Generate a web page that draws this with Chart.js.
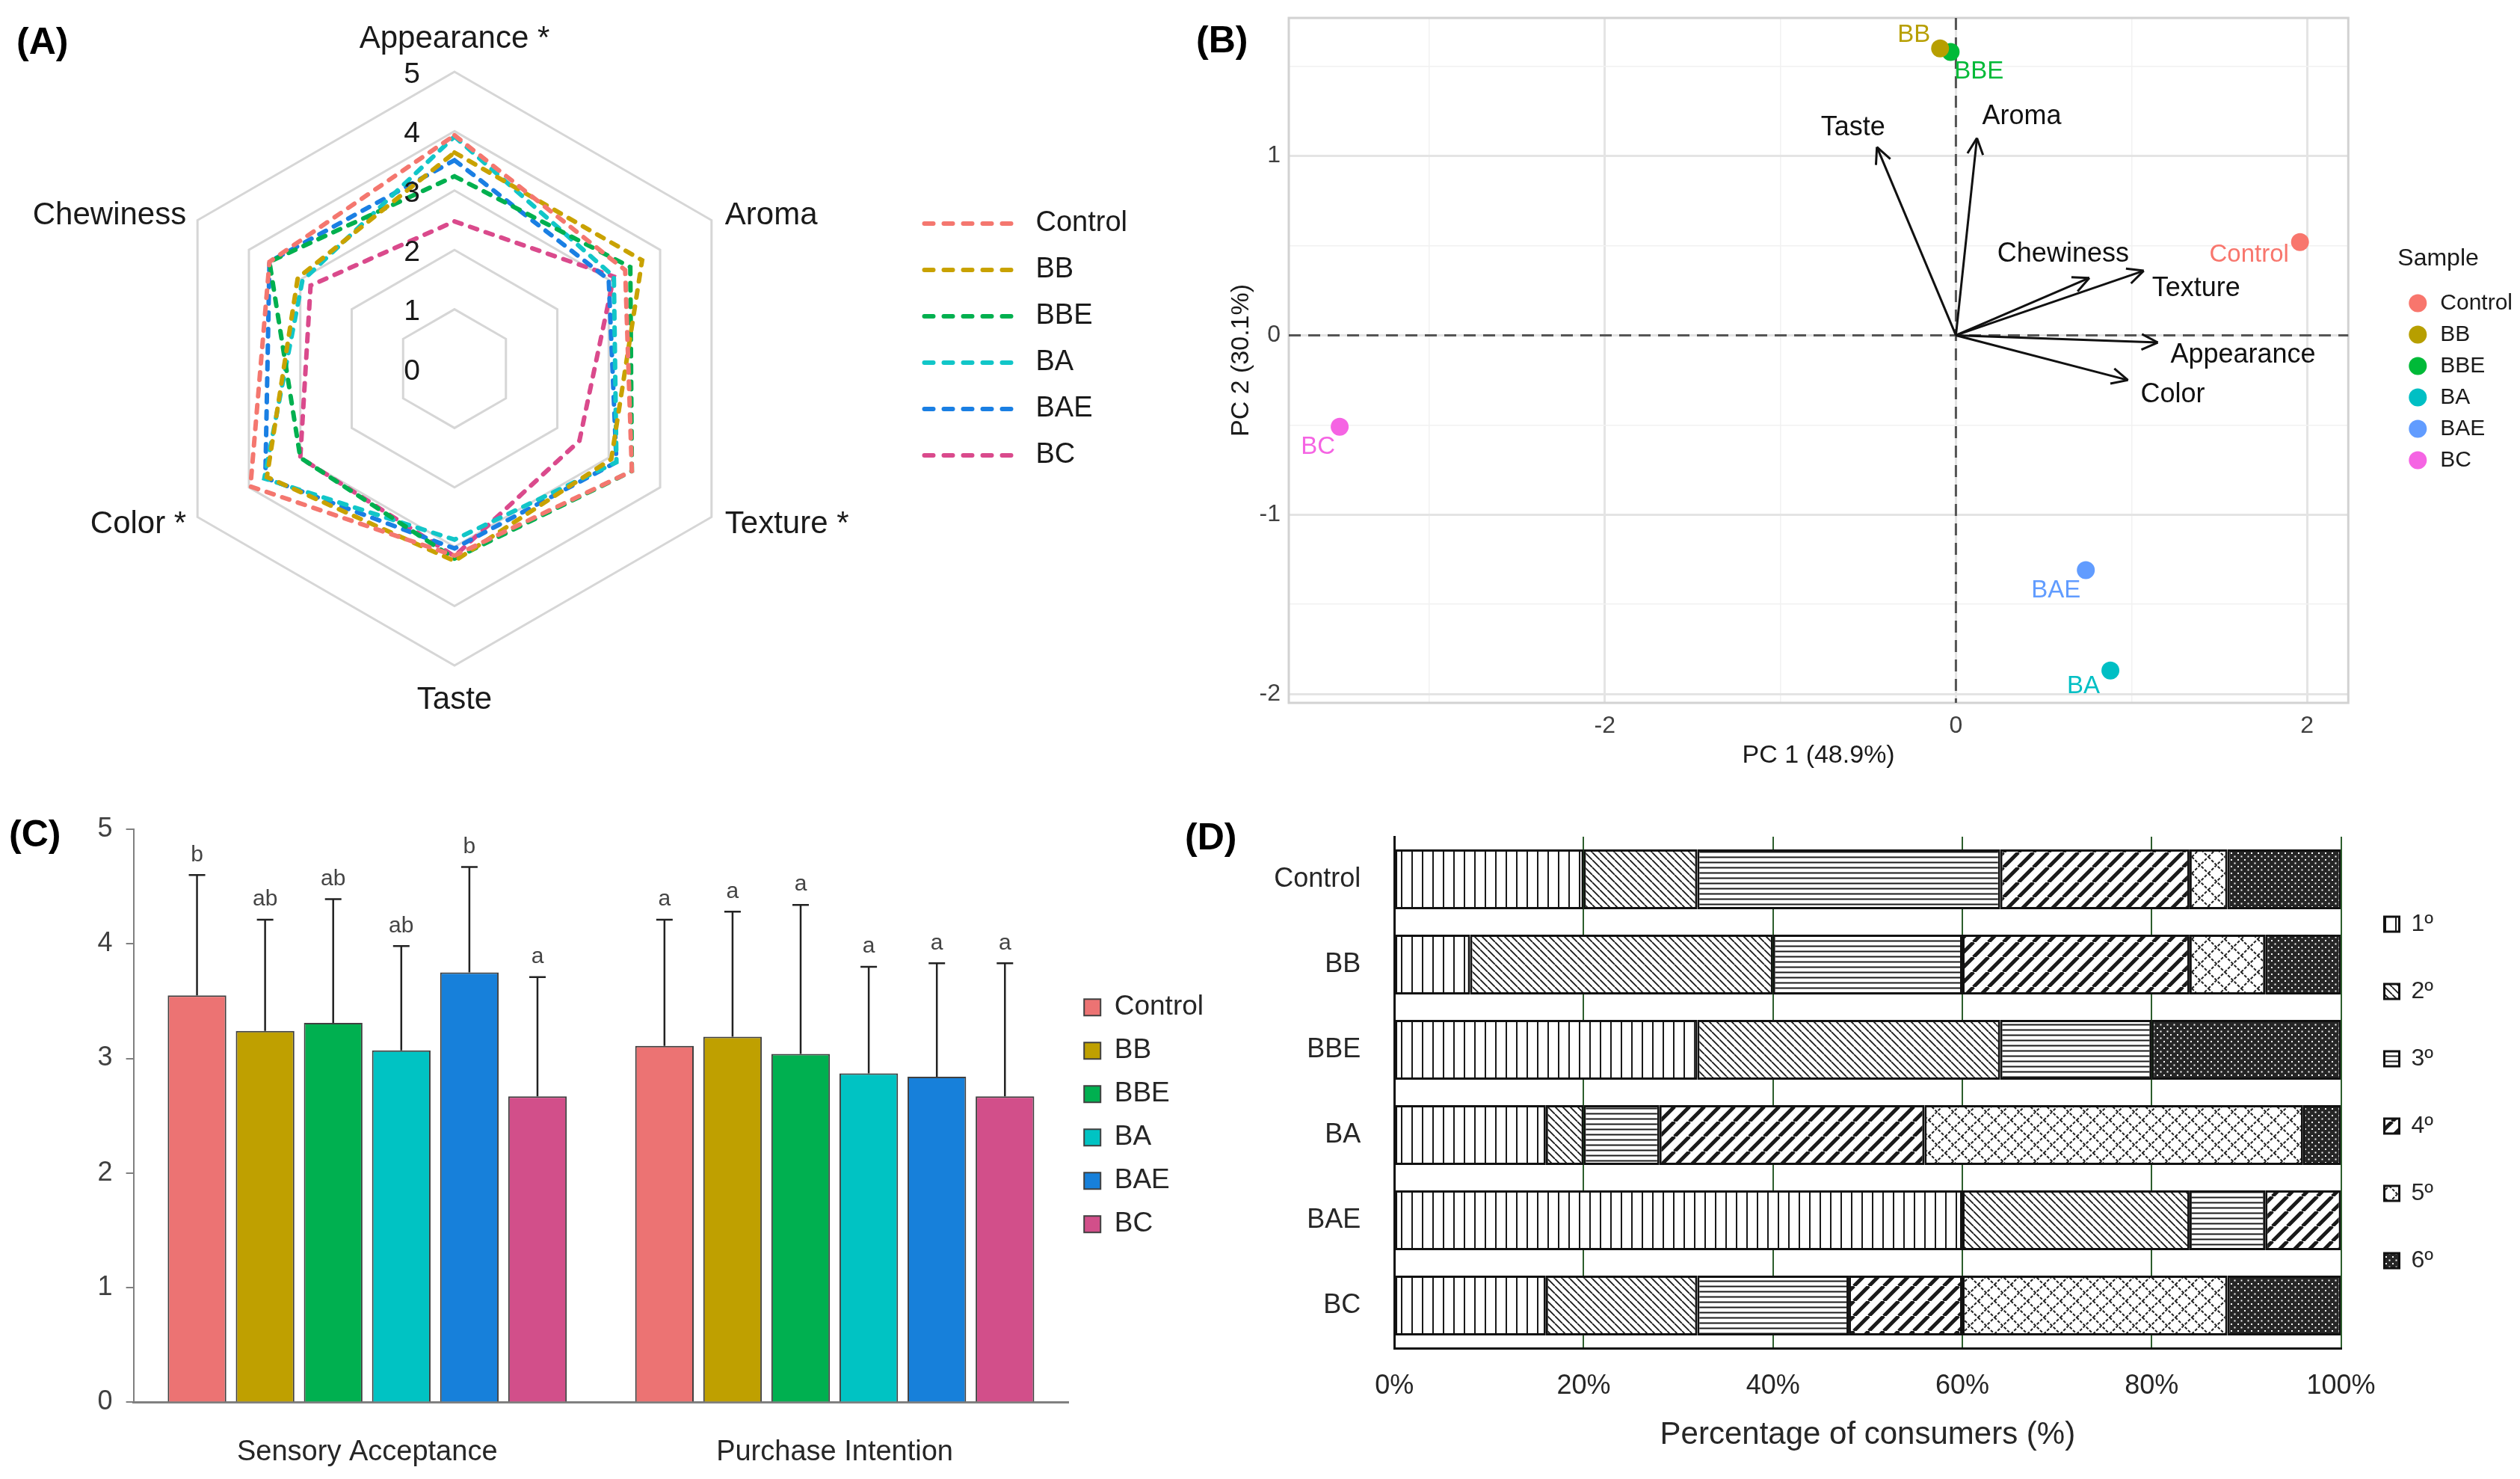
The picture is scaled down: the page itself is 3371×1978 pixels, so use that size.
<!DOCTYPE html>
<html>
<head>
<meta charset="utf-8">
<script src="https://cdn.jsdelivr.net/npm/chart.js@4.4.1/dist/chart.umd.min.js"></script>
<style>
  body { margin: 0; background: #fff; }
  #fig { position: relative; width: 3371px; height: 1978px; overflow: hidden; background: #fff;
         font-family: "Liberation Sans", Arial, sans-serif; }
  .panel { position: absolute; }
  .tag { position: absolute; font-weight: bold; font-size: 50px; line-height: 1; color: #000; }
</style>
</head>
<body>
<div id="fig">
  <canvas class="panel" id="radar" width="1560" height="1000" style="left:0;top:0"></canvas>
  <canvas class="panel" id="pca" width="1771" height="1045" style="left:1600px;top:0"></canvas>
  <canvas class="panel" id="bars" width="1640" height="928" style="left:0;top:1050px"></canvas>
  <canvas class="panel" id="rank" width="1671" height="898" style="left:1700px;top:1080px"></canvas>
  <div class="tag" style="left:22px;top:30px">(A)</div>
  <div class="tag" style="left:1600px;top:28px">(B)</div>
  <div class="tag" style="left:12px;top:1090px">(C)</div>
  <div class="tag" style="left:1585px;top:1094px">(D)</div>
</div>
<script>
// ---- data ----
const samples = ["Control", "BB", "BBE", "BA", "BAE", "BC"];

// (A) sensory profile, clockwise from top
const attributes = ["Appearance *", "Aroma", "Texture *", "Taste", "Color *", "Chewiness"];
const radarControl = [3.93, 3.32, 3.45, 3.15, 3.97, 3.60];
const radarBB      = [3.64, 3.65, 3.05, 3.24, 3.65, 3.05];
const radarBBE     = [3.24, 3.42, 3.45, 3.20, 3.00, 3.60];
const radarBA      = [3.91, 3.10, 3.15, 2.88, 3.70, 2.96];
const radarBAE     = [3.51, 3.00, 3.15, 3.03, 3.68, 3.60];
const radarBC      = [2.48, 3.10, 2.43, 3.16, 3.00, 2.80];
const radarTicks = [0, 1, 2, 3, 4, 5];

// (B) PCA scores and loadings
const pcaX = [1.96, -0.09, -0.03, 0.88, 0.74, -3.51];
const pcaY = [0.52, 1.60, 1.58, -1.87, -1.31, -0.51];
const loadingNames = ["Taste", "Aroma", "Chewiness", "Texture", "Appearance", "Color"];
const loadingX = [-0.45, 0.12, 0.76, 1.07, 1.15, 0.98];
const loadingY = [1.05, 1.10, 0.32, 0.36, -0.04, -0.25];

// (C) acceptance and purchase intention
const groups = ["Sensory Acceptance", "Purchase Intention"];
const accMean = [3.55, 3.24, 3.31, 3.07, 3.75, 2.67];
const accSd   = [1.05, 0.97, 1.08, 0.91, 0.92, 1.04];
const accLetters = ["b", "ab", "ab", "ab", "b", "a"];
const purMean = [3.11, 3.19, 3.04, 2.87, 2.84, 2.67];
const purSd   = [1.10, 1.09, 1.30, 0.93, 0.99, 1.16];
const purLetters = ["a", "a", "a", "a", "a", "a"];

// (D) preference ranking, % of consumers per sample
const ranks = ["1º", "2º", "3º", "4º", "5º", "6º"];
const rank1 = [20, 8, 32, 16, 60, 16];
const rank2 = [12, 32, 32, 4, 24, 16];
const rank3 = [32, 20, 16, 8, 8, 16];
const rank4 = [20, 24, 0, 28, 8, 12];
const rank5 = [4, 8, 0, 40, 0, 28];
const rank6 = [12, 8, 20, 4, 0, 12];

// ---- styles ----
const FONT = "'Liberation Sans', Arial, sans-serif";
Chart.defaults.font.family = FONT;
Chart.defaults.color = "#000";
Chart.defaults.animation = false;
Chart.defaults.plugins.tooltip.enabled = false;

const radarColors = ["#F4776F", "#C9A200", "#00B04F", "#12C6C8", "#1A7FE3", "#DA4A8C"];
const pcaColors = ["#F8766D", "#B79F00", "#00BA38", "#00BFC4", "#619CFF", "#F564E3"];
const barColors = ["#EC7373", "#BFA000", "#00B050", "#00C3C3", "#1780DA", "#D24F8A"];

// tick labels should not push the plot area around
const noEdgePad = s => { s.paddingTop = 0; s.paddingBottom = 0; s.paddingLeft = 0; s.paddingRight = 0; };

// ---------- (A) radar ----------
const radarText = {
  id: "radarText",
  afterDatasetsDraw(chart) {
    const r = chart.scales.r, ctx = chart.ctx;
    ctx.save();
    ctx.fillStyle = "#1a1a1a";
    ctx.textBaseline = "middle";
    ctx.textAlign = "center";
    ctx.font = "39px " + FONT;
    radarTicks.forEach(v => {
      const y = r.yCenter - r.getDistanceFromCenterForValue(v);
      ctx.fillText(String(v), r.xCenter - 57, y + 4);
    });
    ctx.font = "42px " + FONT;
    attributes.forEach((name, i) => {
      const p = r.getPointPosition(i, r.drawingArea);
      const dx = p.x - r.xCenter, dy = p.y - r.yCenter;
      if (Math.abs(dx) < 1) {
        ctx.textAlign = "center";
        ctx.fillText(name, p.x, p.y + (dy < 0 ? -44 : 46));
      } else {
        ctx.textAlign = dx > 0 ? "left" : "right";
        ctx.fillText(name, p.x + (dx > 0 ? 18 : -15), p.y + (dy < 0 ? -6 : 10));
      }
    });
    ctx.restore();
  }
};

const radarSeries = [radarControl, radarBB, radarBBE, radarBA, radarBAE, radarBC];
const rad = new Chart(document.getElementById("radar"), {
  type: "radar",
  data: {
    labels: attributes,
    datasets: samples.map((s, i) => ({
      label: s,
      data: radarSeries[i],
      borderColor: radarColors[i],
      borderWidth: 6,
      borderDash: [10, 12],
      borderCapStyle: "round",
      fill: false,
      pointRadius: 0
    }))
  },
  options: {
    responsive: false,
    devicePixelRatio: 1,
    layout: { autoPadding: false, padding: { left: 5, top: 96, bottom: 109, right: 42 } },
    scales: {
      r: {
        min: 0, max: 5,
        ticks: { stepSize: 1, display: false },
        grid: { color: "#d6d6d6", lineWidth: 3 },
        angleLines: { display: false },
        pointLabels: { display: false }
      }
    },
    plugins: {
      legend: {
        position: "right",
        align: "start",
        fullSize: false,
        maxWidth: 320,
        title: { display: true, text: " ", font: { size: 10 }, padding: { top: 148, bottom: 0 } },
        labels: {
          usePointStyle: true,
          pointStyleWidth: 130,
          boxWidth: 130,
          padding: 24,
          color: "#1a1a1a",
          font: { size: 38 },
          generateLabels: chart => chart.data.datasets.map((d, i) => ({
            text: d.label,
            datasetIndex: i,
            pointStyle: "line",
            strokeStyle: d.borderColor,
            fillStyle: d.borderColor,
            lineWidth: 6,
            lineDash: [12, 14],
            lineCap: "round",
            fontColor: "#1a1a1a",
            hidden: false
          }))
        }
      }
    }
  },
  plugins: [radarText]
});

// ---------- (B) PCA biplot ----------
const pcaLabelShift = {
  Control: [-68, 17], BB: [-35, -18], BBE: [38, 26], BA: [-36, 21], BAE: [-40, 27], BC: [-29, 27],
  Taste: [-32, -26], Aroma: [60, -29], Chewiness: [-35, -32], Texture: [70, 24], Appearance: [114, 17], Color: [60, 20]
};

const pcaDecor = {
  id: "pcaDecor",
  beforeDatasetsDraw(chart) {
    const { ctx, chartArea: a, scales: { x, y } } = chart;
    const x0 = x.getPixelForValue(0), y0 = y.getPixelForValue(0);
    ctx.save();
    ctx.strokeStyle = "#d2d2d2";
    ctx.lineWidth = 3;
    ctx.strokeRect(a.left, a.top, a.width, a.height);
    ctx.strokeStyle = "#555";
    ctx.setLineDash([16, 10]);
    ctx.beginPath();
    ctx.moveTo(x0, a.top); ctx.lineTo(x0, a.bottom);
    ctx.moveTo(a.left, y0); ctx.lineTo(a.right, y0);
    ctx.stroke();
    ctx.restore();
  },
  afterDatasetsDraw(chart) {
    const { ctx, scales: { x, y } } = chart;
    const x0 = x.getPixelForValue(0), y0 = y.getPixelForValue(0);
    ctx.save();
    ctx.strokeStyle = "#111";
    ctx.lineWidth = 3;
    ctx.textAlign = "center";
    ctx.textBaseline = "middle";
    loadingNames.forEach((n, i) => {
      const tx = x.getPixelForValue(loadingX[i]), ty = y.getPixelForValue(loadingY[i]);
      const ang = Math.atan2(ty - y0, tx - x0);
      ctx.beginPath();
      [-0.45, 0.45].forEach(d => {
        ctx.moveTo(tx, ty);
        ctx.lineTo(tx - 24 * Math.cos(ang + d), ty - 24 * Math.sin(ang + d));
      });
      ctx.stroke();
      const s = pcaLabelShift[n];
      ctx.fillStyle = "#111";
      ctx.font = "36px " + FONT;
      ctx.fillText(n, tx + s[0], ty + s[1]);
    });
    samples.forEach((n, i) => {
      const px = x.getPixelForValue(pcaX[i]), py = y.getPixelForValue(pcaY[i]);
      const s = pcaLabelShift[n];
      ctx.fillStyle = pcaColors[i];
      ctx.font = "33px " + FONT;
      ctx.fillText(n, px + s[0], py + s[1]);
    });
    ctx.restore();
  }
};

const onStep = (v, step) => Math.abs(v / step - Math.round(v / step)) < 1e-6;
const gridColor = step => c => (c.tick && onStep(c.tick.value, step)) ? "#e4e4e4" : "#f1f1f1";
const gridWidth = step => c => (c.tick && onStep(c.tick.value, step)) ? 3 : 1.5;

const pca = new Chart(document.getElementById("pca"), {
  type: "scatter",
  data: {
    datasets: samples.map((s, i) => ({
      label: s,
      data: [{ x: pcaX[i], y: pcaY[i] }],
      backgroundColor: pcaColors[i],
      borderWidth: 0,
      pointRadius: 12
    })).concat(loadingNames.map((n, i) => ({
      label: n,
      data: [{ x: 0, y: 0 }, { x: loadingX[i], y: loadingY[i] }],
      showLine: true,
      borderColor: "#111",
      borderWidth: 3,
      pointRadius: 0
    })))
  },
  options: {
    responsive: false,
    devicePixelRatio: 1,
    layout: { autoPadding: false, padding: { top: 24, right: 0, bottom: 14 } },
    scales: {
      x: {
        type: "linear", min: -3.8, max: 2.235,
        ticks: { stepSize: 1, includeBounds: false, color: "#404040", font: { size: 32 }, padding: 12,
                 callback: v => (onStep(v, 2) ? String(Math.round(v)) : "") },
        grid: { color: gridColor(2), lineWidth: gridWidth(2), drawTicks: false },
        border: { display: false },
        title: { display: true, text: "PC 1 (48.9%)", color: "#1a1a1a", font: { size: 34 }, padding: { top: 2, bottom: 0 } },
        afterFit: s => { noEdgePad(s); s.height = 91; }
      },
      y: {
        type: "linear", min: -2.05, max: 1.77,
        ticks: { stepSize: 0.5, includeBounds: false, color: "#404040", font: { size: 32 }, padding: 11,
                 callback: v => (onStep(v, 1) ? String(Math.round(v)) : "") },
        grid: { color: gridColor(1), lineWidth: gridWidth(1), drawTicks: false },
        border: { display: false },
        title: { display: true, text: "PC 2 (30.1%)", color: "#1a1a1a", font: { size: 34 }, padding: { top: 40, bottom: 0 } },
        afterFit: s => { noEdgePad(s); s.width = 124; }
      },
      gap: {
        type: "linear", position: "right", min: 0, max: 1,
        ticks: { display: false }, grid: { display: false }, border: { display: false },
        afterFit: s => { noEdgePad(s); s.width = 66; }
      }
    },
    plugins: {
      legend: {
        position: "right",
        align: "start",
        fullSize: false,
        maxWidth: 164,
        title: { display: true, text: "Sample", color: "#1a1a1a", font: { size: 32 }, position: "start",
                 padding: { top: 306, bottom: 10 } },
        labels: {
          usePointStyle: true, pointStyle: "circle",
          boxWidth: 30, boxHeight: 17, padding: 12,
          color: "#1a1a1a", font: { size: 30 },
          filter: item => item.datasetIndex < samples.length
        }
      }
    }
  },
  plugins: [pcaDecor]
});

// ---------- (C) bars with error bars ----------
const errorBars = {
  id: "errorBars",
  afterDatasetsDraw(chart) {
    const { ctx, scales: { y } } = chart;
    ctx.save();
    ctx.strokeStyle = "#222";
    ctx.fillStyle = "#444";
    ctx.lineWidth = 2.5;
    ctx.font = "30px " + FONT;
    ctx.textAlign = "center";
    ctx.textBaseline = "bottom";
    chart.data.datasets.forEach((d, i) => {
      chart.getDatasetMeta(i).data.forEach((bar, j) => {
        const mean = j === 0 ? accMean[i] : purMean[i];
        const sd = j === 0 ? accSd[i] : purSd[i];
        const letter = j === 0 ? accLetters[i] : purLetters[i];
        const top = y.getPixelForValue(mean + sd);
        ctx.beginPath();
        ctx.moveTo(bar.x, bar.y); ctx.lineTo(bar.x, top);
        ctx.moveTo(bar.x - 11, top); ctx.lineTo(bar.x + 11, top);
        ctx.stroke();
        ctx.fillText(letter, bar.x, top - 12);
      });
    });
    ctx.restore();
  }
};

const bar = new Chart(document.getElementById("bars"), {
  type: "bar",
  data: {
    labels: groups,
    datasets: samples.map((s, i) => ({
      label: s,
      data: [accMean[i], purMean[i]],
      backgroundColor: barColors[i],
      borderColor: "#404040",
      borderWidth: 2,
      categoryPercentage: 0.874,
      barPercentage: 0.86
    }))
  },
  options: {
    responsive: false,
    devicePixelRatio: 1,
    layout: { autoPadding: false, padding: { top: 59, right: 20 } },
    scales: {
      x: {
        grid: { display: false },
        border: { color: "#808080", width: 3 },
        ticks: { color: "#262626", font: { size: 38 }, padding: 36 },
        afterFit: s => { noEdgePad(s); s.height = 102.6; }
      },
      y: {
        min: 0, max: 5,
        ticks: { stepSize: 1, color: "#404040", font: { size: 36 }, padding: 18 },
        grid: { drawOnChartArea: false, tickLength: 10, color: "#808080", lineWidth: 2 },
        border: { color: "#808080", width: 2 },
        afterFit: s => { noEdgePad(s); s.width = 178.6; }
      }
    },
    plugins: {
      legend: {
        position: "right",
        align: "center",
        fullSize: false,
        labels: { boxWidth: 22, boxHeight: 22, padding: 21, color: "#262626", font: { size: 37 } }
      }
    }
  },
  plugins: [errorBars]
});

// ---------- (D) ranking, hatched stacked bars ----------
function hatch(kind) {
  const s = { v: 14, d: 10, h: 7, f: 20, x: 22, k: 9 }[kind];
  const c = document.createElement("canvas");
  c.width = c.height = s;
  const g = c.getContext("2d");
  g.fillStyle = kind === "k" ? "#262626" : "#fff";
  g.fillRect(0, 0, s, s);
  g.strokeStyle = "#1a1a1a";
  g.beginPath();
  if (kind === "v") { g.lineWidth = 2; g.moveTo(s / 2, 0); g.lineTo(s / 2, s); }
  if (kind === "h") { g.lineWidth = 2; g.moveTo(0, s / 2); g.lineTo(s, s / 2); }
  if (kind === "d") { g.lineWidth = 1.8; for (const o of [-s, 0, s]) { g.moveTo(o, 0); g.lineTo(o + s, s); } }
  if (kind === "f") { g.lineWidth = 5; for (const o of [-s, 0, s]) { g.moveTo(o, s); g.lineTo(o + s, 0); } }
  if (kind === "x") {
    g.lineWidth = 2; g.strokeStyle = "#222"; g.setLineDash([4, 2]);
    for (const o of [-s, 0, s]) { g.moveTo(o, 0); g.lineTo(o + s, s); g.moveTo(o, s); g.lineTo(o + s, 0); }
  }
  g.stroke();
  if (kind === "k") { g.fillStyle = "#fff"; g.fillRect(1.5, 1.5, 2, 2); g.fillRect(6, 6, 2, 2); }
  return g.createPattern(c, "repeat");
}

const rankSeries = [rank1, rank2, rank3, rank4, rank5, rank6];
const rankFill = ["v", "d", "h", "f", "x", "k"].map(hatch);

const stk = new Chart(document.getElementById("rank"), {
  type: "bar",
  data: {
    labels: samples,
    datasets: ranks.map((r, i) => ({
      label: r,
      data: rankSeries[i],
      backgroundColor: rankFill[i],
      borderColor: "#111",
      borderWidth: 3,
      borderSkipped: false,
      categoryPercentage: 1,
      barPercentage: 0.7
    }))
  },
  options: {
    indexAxis: "y",
    responsive: false,
    devicePixelRatio: 1,
    layout: { autoPadding: false, padding: { top: 39, right: 106, bottom: 29 } },
    scales: {
      x: {
        stacked: true, min: 0, max: 100,
        ticks: { stepSize: 20, callback: v => v + "%", color: "#262626", font: { size: 36 }, padding: 29 },
        grid: { color: "#2d5e2d", lineWidth: 2, drawTicks: false },
        border: { color: "#111", width: 3 },
        title: { display: true, text: "Percentage of consumers (%)", color: "#262626", font: { size: 42 }, padding: { top: 0 } },
        afterFit: s => { noEdgePad(s); s.height = 146; }
      },
      y: {
        stacked: true,
        grid: { display: false },
        border: { color: "#111", width: 3 },
        ticks: { color: "#262626", font: { size: 36 }, padding: 37 },
        afterFit: s => { noEdgePad(s); s.width = 165.2; }
      }
    },
    plugins: {
      legend: {
        position: "right",
        align: "center",
        fullSize: false,
        labels: { boxWidth: 20, boxHeight: 20, padding: 58, color: "#262626", font: { size: 32 } }
      }
    }
  }
});
</script>
</body>
</html>
